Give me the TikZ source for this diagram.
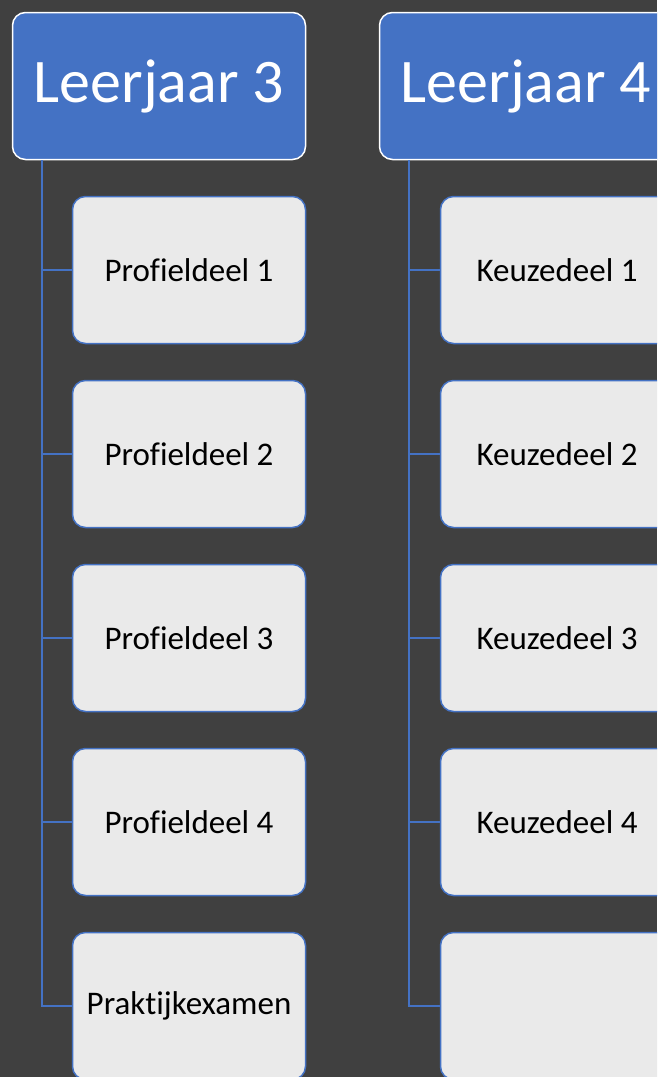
\documentclass[tikz,border=0pt]{standalone}
\usepackage{fontspec}
\setmainfont[Ligatures={NoCommon}]{Carlito}
\usetikzlibrary{positioning}
\definecolor{bgGray}{HTML}{404040}
\definecolor{hdrBlue}{HTML}{4472C4}
\definecolor{boxGray}{HTML}{EAEAEA}
\tikzset{
    yearNode/.style={rectangle, rounded corners=13pt, draw=white, line width=1.5pt, fill=hdrBlue, text=white, minimum width=293pt, minimum height=147pt, inner sep=0pt, font=\fontsize{62}{70}\selectfont},
    partNode/.style={rectangle, rounded corners=13pt, draw=hdrBlue, line width=1.5pt, fill=boxGray, text=black, minimum width=233pt, minimum height=147pt, inner sep=0pt, font=\fontsize{33}{40}\selectfont},
    treeLine/.style={draw=hdrBlue, line width=1.5pt},
}

\begin{document}
\begin{tikzpicture}[x=1pt, y=-1pt]
    \clip (0,0) rectangle (657,1077);
    \fill[bgGray] (0,0) rectangle (657,1077);

    % kopjes
    \node[yearNode] (jaar3) at (159,86) {Leerjaar 3};
    \node[yearNode] (jaar4) at (526,86) {Leerjaar 4};

    % onderdelen
    \foreach \i/\txt in {1/Profieldeel 1, 2/Profieldeel 2, 3/Profieldeel 3, 4/Profieldeel 4, 5/Praktijkexamen}
        \node[partNode] (pd\i) at (189, 86+184*\i) {\txt};
    \foreach \i/\txt in {1/Keuzedeel 1, 2/Keuzedeel 2, 3/Keuzedeel 3, 4/Keuzedeel 4, 5/{}}
        \node[partNode] (kd\i) at (557, 86+184*\i) {\txt};

    % verbindingen
    \foreach \i in {1,...,5} {
        \draw[treeLine] ([xshift=30pt]jaar3.south west) |- (pd\i.west);
        \draw[treeLine] ([xshift=30pt]jaar4.south west) |- (kd\i.west);
    }

\end{tikzpicture}
\end{document}
